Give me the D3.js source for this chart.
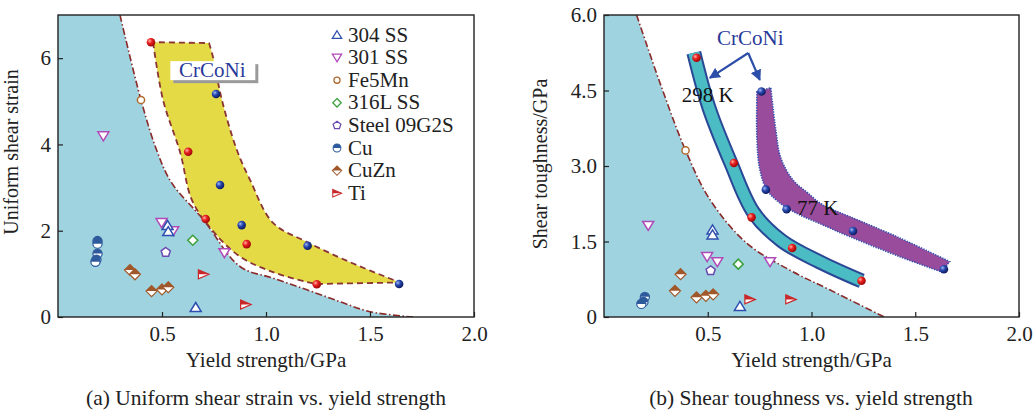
<!DOCTYPE html>
<html>
<head>
<meta charset="utf-8">
<script src="https://cdn.jsdelivr.net/npm/d3@7"></script>
<style>
  body { margin: 0; background: #fff; }
  svg text { font-family: "Liberation Serif", Tinos, "Times New Roman", Times, "DejaVu Serif", serif !important; }
</style>
</head>
<body>
<div id="content"></div>
<script>
// ---- data, [yield strength (GPa), value]
// (a) uniform shear strain
var ss304_a = [[0.527, 2.12], [0.53, 1.98], [0.662, 0.22]];
var ss301_a = [[0.218, 4.2], [0.498, 2.19], [0.554, 2.0], [0.80, 1.49]];
var fe5mn_a = [[0.399, 5.03]];
var ss316_a = [[0.648, 1.78]];
var steel_a = [[0.518, 1.50]];
var cu_a = [[0.19, 1.76], [0.19, 1.70], [0.19, 1.47], [0.185, 1.33], [0.18, 1.28]];
var cuzn_a = [[0.346, 1.09], [0.37, 0.99], [0.45, 0.60], [0.50, 0.64], [0.53, 0.69]];
var ti_a = [[0.699, 0.99], [0.902, 0.29]];
var k298_a = [[0.447, 6.37], [0.626, 3.83], [0.71, 2.27], [0.907, 1.69], [1.244, 0.76]];
var k77_a = [[0.76, 5.17], [0.779, 3.06], [0.883, 2.13], [1.2, 1.65], [1.64, 0.765]];
var limit_a = [[0.298, 7.0], [0.399, 5.03], [0.474, 3.87], [0.545, 3.12], [0.70, 2.25], [0.875, 1.17],
               [1.034, 0.90], [1.197, 0.63], [1.356, 0.355], [1.5, 0.123], [1.707, 0]];
var zoneLow_a = [[0.457, 6.37], [0.505, 5.03], [0.587, 3.82], [0.644, 2.71], [0.74, 2.02], [0.875, 1.40],
                 [1.034, 1.04], [1.197, 0.81], [1.244, 0.765]];
var zoneUp_a = [[1.644, 0.80], [1.404, 1.27], [1.197, 1.74], [1.034, 2.18], [0.923, 3.18], [0.86, 3.87],
                [0.788, 5.03], [0.745, 6.03], [0.726, 6.35]];

// (b) shear toughness (GPa)
var ss304_b = [[0.523, 1.73], [0.523, 1.63], [0.655, 0.21]];
var ss301_b = [[0.213, 1.82], [0.497, 1.20], [0.546, 1.10], [0.80, 1.10]];
var fe5mn_b = [[0.393, 3.31]];
var ss316_b = [[0.647, 1.05]];
var steel_b = [[0.514, 0.92]];
var cu_b = [[0.197, 0.40], [0.19, 0.30], [0.18, 0.26]];
var cuzn_b = [[0.369, 0.85], [0.342, 0.52], [0.446, 0.39], [0.491, 0.42], [0.526, 0.45]];
var ti_b = [[0.703, 0.35], [0.90, 0.35]];
var k298_b = [[0.446, 5.15], [0.626, 3.06], [0.711, 1.98], [0.907, 1.37], [1.241, 0.72]];
var k77_b = [[0.759, 4.48], [0.78, 2.53], [0.88, 2.14], [1.2, 1.71], [1.638, 0.95]];
var limit_b = [[0.157, 6.0], [0.27, 4.65], [0.393, 3.31], [0.511, 2.33], [0.687, 1.47], [0.896, 0.93],
               [1.088, 0.54], [1.35, 0]];
var band298_b = [[0.433, 5.25], [0.506, 4.157], [0.611, 3.063], [0.722, 2.068], [0.857, 1.512],
                 [1.04, 1.094], [1.242, 0.716]];
var band77Low_b = [[0.737, 4.475], [0.737, 3.52], [0.751, 2.924], [0.785, 2.526], [0.847, 2.267],
                   [0.943, 2.029], [1.054, 1.83], [1.184, 1.597], [1.425, 1.199], [1.627, 0.895]];
var band77Up_b = [[1.666, 1.10], [1.425, 1.571], [1.184, 1.995], [1.054, 2.228], [0.982, 2.466],
                  [0.91, 2.725], [0.852, 3.162], [0.828, 3.719], [0.804, 4.554]];
var arrowFrom_b = [0.695, 5.245];
var arrowTo_b = [[0.51, 4.75], [0.751, 4.71]];

// ticks / labels
var xTicks = [0.5, 1.0, 1.5, 2.0];
var yTicks_a = [0, 2, 4, 6];
var yTicks_b = [0, 1.5, 3.0, 4.5, 6.0];
var legendNames = ["304 SS", "301 SS", "Fe5Mn", "316L SS", "Steel 09G2S", "Cu", "CuZn", "Ti"];
var legendKinds = ["tri", "tridown", "circle", "diamond", "pent", "halfcircle", "halfdiamond", "ti"];

var colors = {
  tri: "#2f4fb0", tridown: "#b04ab8", circle: "#b06a30", diamond: "#3aa03a",
  pent: "#6a4ab0", halfcircle: "#2d5a9c", halfdiamond: "#a0582a", ti: "#c8282a"
};
var SERIF = '"Liberation Serif", Tinos, "Times New Roman", Times, "DejaVu Serif", serif';

var svg = d3.select("#content").append("svg")
    .attr("width", 1035)
    .attr("height", 412)
    .attr("font-family", SERIF);
var defs = svg.append("defs");

// sphere gradients
function sphere(id, light, mid, dark) {
  var gr = defs.append("radialGradient").attr("id", id)
    .attr("cx", "35%").attr("cy", "35%").attr("r", "65%");
  gr.append("stop").attr("offset", "0%").attr("stop-color", light);
  gr.append("stop").attr("offset", "45%").attr("stop-color", mid);
  gr.append("stop").attr("offset", "100%").attr("stop-color", dark);
}
sphere("sRed", "#ffb0a0", "#e82020", "#a00808");
sphere("sBlue", "#a0b8f0", "#2848b0", "#0c1c60");

defs.append("marker").attr("id", "ahead")
    .attr("viewBox", "0 0 10 10").attr("refX", 9).attr("refY", 5)
    .attr("markerWidth", 5).attr("markerHeight", 5).attr("orient", "auto")
  .append("path").attr("d", "M0,0L10,5L0,10Z").attr("fill", "#2c4ea8");

function pentagon(r) {
  var p = [];
  for (var i = 0; i < 5; i++) {
    var a = -Math.PI / 2 + i * 2 * Math.PI / 5;
    p.push([r * Math.cos(a), r * Math.sin(a)]);
  }
  return "M" + p.join("L") + "Z";
}

function drawPoints(g, x, y, data, kind) {
  var c = colors[kind];
  var s = g.selectAll(null).data(data).enter().append("g")
      .attr("transform", function(d) { return "translate(" + x(d[0]) + "," + y(d[1]) + ")"; });
  drawShape(s, kind, c);
}

function drawShape(s, kind, c) {
  if (kind == "tri") {
    s.append("path").attr("d", "M0,-5L5.5,4L-5.5,4Z").attr("fill", "#fff").attr("stroke", c).attr("stroke-width", 1.5);
  } else if (kind == "tridown") {
    s.append("path").attr("d", "M0,5L5.5,-4L-5.5,-4Z").attr("fill", "#fff").attr("stroke", c).attr("stroke-width", 1.5);
  } else if (kind == "circle") {
    s.append("circle").attr("r", 3.6).attr("fill", "#fff").attr("stroke", c).attr("stroke-width", 1.5);
  } else if (kind == "diamond") {
    s.append("path").attr("d", "M0,-5L5,0L0,5L-5,0Z").attr("fill", "#fff").attr("stroke", c).attr("stroke-width", 1.5);
  } else if (kind == "pent") {
    s.append("path").attr("d", pentagon(4.8)).attr("fill", "#fff").attr("stroke", c).attr("stroke-width", 1.5);
  } else if (kind == "halfcircle") {
    s.append("circle").attr("r", 4.6).attr("fill", "#fff").attr("stroke", c).attr("stroke-width", 1.2);
    s.append("path").attr("d", "M-4.6,0A4.6,4.6 0 0 1 4.6,0Z").attr("fill", c);
  } else if (kind == "halfdiamond") {
    s.append("path").attr("d", "M0,-5.5L5.5,0L0,5.5L-5.5,0Z").attr("fill", "#fff").attr("stroke", c).attr("stroke-width", 1.2);
    s.append("path").attr("d", "M0,-5.5L5.5,0L-5.5,0Z").attr("fill", c);
  } else if (kind == "ti") {
    s.append("path").attr("d", "M-5,-4.5L5.5,0L-5,4.5Z").attr("fill", "#fff").attr("stroke", c).attr("stroke-width", 1.2);
    s.append("path").attr("d", "M-5,-4.5L5.5,0L-5,0Z").attr("fill", c);
  } else if (kind == "red") {
    s.append("circle").attr("r", 4.3).attr("fill", "url(#sRed)");
  } else if (kind == "blue") {
    s.append("circle").attr("r", 4.3).attr("fill", "url(#sBlue)");
  }
}

function makePanel(id, left, right, yMax, yTicks, yFmt, yTitle, yTitleX, yTitleY, xTitle, caption, capX) {
  var x = d3.scaleLinear().domain([0, 2]).range([left, right]);
  var y = d3.scaleLinear().domain([0, yMax]).range([317, 15]);
  var g = svg.append("g");

  defs.append("clipPath").attr("id", "clip" + id).append("rect")
      .attr("x", left).attr("y", 15).attr("width", right - left).attr("height", 302);
  var plot = g.append("g").attr("clip-path", "url(#clip" + id + ")");

  //axes
  var xa = g.append("g").attr("transform", "translate(0,317)")
      .call(d3.axisBottom(x).tickValues(xTicks).tickSizeInner(-5).tickSizeOuter(0)
        .tickPadding(9).tickFormat(d3.format(".1f")));
  var ya = g.append("g").attr("transform", "translate(" + left + ",0)")
      .call(d3.axisLeft(y).tickValues(yTicks).tickSizeInner(-5).tickSizeOuter(0)
        .tickPadding(7).tickFormat(yFmt));
  [xa, ya].forEach(function(a) {
    a.attr("font-family", SERIF).attr("font-size", 21);
    a.select(".domain").remove();
    a.selectAll("line").attr("stroke", "#222").attr("stroke-width", 1.2);
    a.selectAll("text").attr("fill", "#222");
  });

  g.append("text").attr("x", (left + right) / 2).attr("y", 367)
      .attr("text-anchor", "middle").attr("font-size", 21).attr("fill", "#222").text(xTitle);
  g.append("text").attr("x", capX).attr("y", 405)
      .attr("text-anchor", "middle").attr("font-size", 21.5).attr("fill", "#222").text(caption);
  g.append("text").attr("transform", "translate(" + yTitleX + "," + yTitleY + ") rotate(-90)")
      .attr("text-anchor", "middle").attr("font-size", 20).attr("fill", "#222").text(yTitle);

  return {g: g, plot: plot, x: x, y: y, left: left, right: right};
}

function frame(p) {
  p.g.append("rect").attr("x", p.left).attr("y", 15)
      .attr("width", p.right - p.left).attr("height", 302)
      .attr("fill", "none").attr("stroke", "#222").attr("stroke-width", 1.4);
}

function limitZone(p, limit, yMax) {
  var line = d3.line().curve(d3.curveCatmullRom.alpha(0.5))
      .x(function(d) { return p.x(d[0]); }).y(function(d) { return p.y(d[1]); });
  p.plot.append("path")
      .attr("d", "M" + p.x(0) + "," + p.y(0) + "L" + p.x(0) + "," + p.y(yMax) + line(limit).replace(/^M/, "L") + "Z")
      .attr("fill", "#9fd3df");
  p.plot.append("path").attr("d", line(limit))
      .attr("fill", "none").attr("stroke", "#8a2a2a").attr("stroke-width", 1.6)
      .attr("stroke-dasharray", "7,2.5,1.5,2.5");
}

// ================= (a)
var pa = makePanel("a", 58, 474, 7, yTicks_a, d3.format("d"),
  "Uniform shear strain", 18, 152, "Yield strength/GPa", "(a) Uniform shear strain vs. yield strength", 266);
limitZone(pa, limit_a, 7);

var la = d3.line().curve(d3.curveCatmullRom.alpha(0.5))
    .x(function(d) { return pa.x(d[0]); }).y(function(d) { return pa.y(d[1]); });
var zonePath = la(zoneLow_a) + la(zoneUp_a).replace(/^M/, "L") + "Z";
pa.plot.append("path").attr("d", zonePath)
    .attr("fill", "#e4da46").attr("stroke", "#8a3434").attr("stroke-width", 1.8)
    .attr("stroke-dasharray", "6,4");

drawPoints(pa.plot, pa.x, pa.y, cu_a, "halfcircle");
drawPoints(pa.plot, pa.x, pa.y, cuzn_a, "halfdiamond");
drawPoints(pa.plot, pa.x, pa.y, ss301_a, "tridown");
drawPoints(pa.plot, pa.x, pa.y, ss304_a, "tri");
drawPoints(pa.plot, pa.x, pa.y, steel_a, "pent");
drawPoints(pa.plot, pa.x, pa.y, ss316_a, "diamond");
drawPoints(pa.plot, pa.x, pa.y, ti_a, "ti");
drawPoints(pa.plot, pa.x, pa.y, fe5mn_a, "circle");
drawPoints(pa.plot, pa.x, pa.y, k298_a, "red");
drawPoints(pa.plot, pa.x, pa.y, k77_a, "blue");

// CrCoNi label box
var lab = pa.g.append("g").attr("transform", "translate(" + pa.x(0.54) + "," + pa.y(5.93) + ")");
lab.append("rect").attr("x", 3).attr("y", 3).attr("width", 85).attr("height", 19).attr("fill", "#9a9a9a");
lab.append("rect").attr("x", 0).attr("y", 0).attr("width", 85).attr("height", 19).attr("fill", "#fff");
lab.append("text").attr("x", 42).attr("y", 16).attr("text-anchor", "middle")
    .attr("font-size", 21).attr("fill", "#2a3a9a").text("CrCoNi");

// legend
var leg = pa.g.append("g").attr("transform", "translate(337,35)");
legendNames.forEach(function(n, i) {
  var row = leg.append("g").attr("transform", "translate(0," + (i * 22.6) + ")");
  drawShape(row.append("g").attr("transform", "scale(0.85)"), legendKinds[i], colors[legendKinds[i]]);
  row.append("text").attr("x", 11).attr("y", 6.5).attr("font-size", 21).attr("fill", "#222").text(n);
});
frame(pa);

// ================= (b)
var pb = makePanel("b", 604, 1019, 6, yTicks_b, function(d) { return d == 0 ? "0" : d3.format(".1f")(d); },
  "Shear toughness/GPa", 547, 164, "Yield strength/GPa", "(b) Shear toughness vs. yield strength", 811);
limitZone(pb, limit_b, 6);

var lb = d3.line().curve(d3.curveCatmullRom.alpha(0.5))
    .x(function(d) { return pb.x(d[0]); }).y(function(d) { return pb.y(d[1]); });
// 298 K band
pb.plot.append("path").attr("d", lb(band298_b)).attr("fill", "none")
    .attr("stroke", "#2a4896").attr("stroke-width", 15);
pb.plot.append("path").attr("d", lb(band298_b)).attr("fill", "none")
    .attr("stroke", "#4bbcc4").attr("stroke-width", 11);
// 77 K band
pb.plot.append("path").attr("d", lb(band77Low_b) + lb(band77Up_b).replace(/^M/, "L") + "Z")
    .attr("fill", "#9a4c9c").attr("stroke", "#3050b0").attr("stroke-width", 1.6)
    .attr("stroke-dasharray", "1.3,1.3");

drawPoints(pb.plot, pb.x, pb.y, cu_b, "halfcircle");
drawPoints(pb.plot, pb.x, pb.y, cuzn_b, "halfdiamond");
drawPoints(pb.plot, pb.x, pb.y, ss301_b, "tridown");
drawPoints(pb.plot, pb.x, pb.y, ss304_b, "tri");
drawPoints(pb.plot, pb.x, pb.y, steel_b, "pent");
drawPoints(pb.plot, pb.x, pb.y, ss316_b, "diamond");
drawPoints(pb.plot, pb.x, pb.y, ti_b, "ti");
drawPoints(pb.plot, pb.x, pb.y, fe5mn_b, "circle");
drawPoints(pb.plot, pb.x, pb.y, k298_b, "red");
drawPoints(pb.plot, pb.x, pb.y, k77_b, "blue");

// arrows + labels
arrowTo_b.forEach(function(t) {
  pb.g.append("line")
      .attr("x1", pb.x(arrowFrom_b[0])).attr("y1", pb.y(arrowFrom_b[1]))
      .attr("x2", pb.x(t[0])).attr("y2", pb.y(t[1]))
      .attr("stroke", "#2c4ea8").attr("stroke-width", 2.2).attr("marker-end", "url(#ahead)");
});
pb.g.append("text").attr("x", pb.x(0.705)).attr("y", pb.y(5.4)).attr("text-anchor", "middle")
    .attr("font-size", 21).attr("fill", "#2a3a9a").text("CrCoNi");
pb.g.append("text").attr("x", pb.x(0.375)).attr("y", pb.y(4.28))
    .attr("font-size", 21).attr("fill", "#111").text("298 K");
pb.g.append("text").attr("x", pb.x(0.93)).attr("y", pb.y(2.03))
    .attr("font-size", 21).attr("fill", "#111").text("77 K");
frame(pb);
</script>
</body>
</html>
